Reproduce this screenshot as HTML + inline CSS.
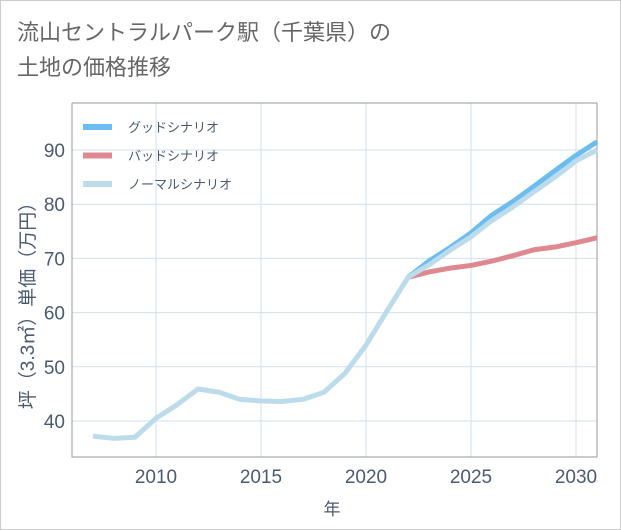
<!DOCTYPE html>
<html><head><meta charset="utf-8">
<style>
body{margin:0;background:#fff;}
.wrap{position:relative;width:619px;height:528px;border:1px solid #ccc;background:#fff;overflow:hidden;font-family:"Liberation Sans","Noto Sans CJK JP",sans-serif;}
.title{position:absolute;left:16px;top:14px;font-size:22px;line-height:35px;color:#666;}
</style></head><body>
<div class="wrap">
<div class="title">流山セントラルパーク駅（千葉県）の<br>土地の価格推移</div>
<svg id="s" width="619" height="528" style="position:absolute;left:0;top:0"></svg>
</div>
<script>
var X=function(y){return 155+(y-2010)*21},Y=function(v){return 420-(v-40)*5.42};
var h='';
[40,50,60,70,80,90].forEach(function(v){h+='<line x1="71" x2="596" y1="'+Y(v)+'" y2="'+Y(v)+'" stroke="#cfe0ec" stroke-width="1"/>';
h+='<text x="64" y="'+(Y(v)+7)+'" text-anchor="end" font-size="19" fill="#4a5a70">'+v+'</text>';});
[2010,2015,2020,2025,2030].forEach(function(y){h+='<line y1="102" y2="456" x1="'+X(y)+'" x2="'+X(y)+'" stroke="#cfe0ec" stroke-width="1"/>';
h+='<text y="482" x="'+X(y)+'" text-anchor="middle" font-size="19" fill="#4a5a70">'+y+'</text>';});
h+='<polyline points="71,102 71,456 596,456 596,102 71,102" fill="none" stroke="#999" stroke-width="1"/>';
function pl(d,s,c){var p=d.map(function(v,i){return X(s+i)+','+Y(v)}).join(' ');h+='<polyline points="'+p+'" fill="none" stroke="'+c+'" stroke-width="5" stroke-linejoin="round"/>';}
pl([66.5,67.5,68.2,68.7,69.5,70.5,71.6,72.1,72.9,73.8],2022,'#e08890');
pl([66.5,69.5,72,74.7,78,80.5,83.3,86.2,89,91.5],2022,'#6bbcef');
pl([37.2,36.8,37,40.5,43,45.9,45.3,44,43.7,43.6,44,45.3,48.8,54,60.3,66.5,68.8,71.5,74,77,79.5,82.3,85,88,90],2007,'#bcdcec');
var lg=[['#6bbcef','グッドシナリオ'],['#e08890','バッドシナリオ'],['#bcdcec','ノーマルシナリオ']];
lg.forEach(function(l,i){var y=126+i*28.5;h+='<line x1="82" x2="111" y1="'+y+'" y2="'+y+'" stroke="'+l[0]+'" stroke-width="6"/>';
h+='<text x="127" y="'+(y+5)+'" font-size="13" fill="#4a5a70">'+l[1]+'</text>';});
h+='<text x="331" y="514" text-anchor="middle" font-size="17" fill="#4a5a70">年</text>';
h+='<text transform="translate(33,300) rotate(-90)" text-anchor="middle" font-size="19" fill="#4a5a70">坪（3.3㎡）単価（万円）</text>';
document.getElementById('s').innerHTML=h;
</script>
</body></html>
